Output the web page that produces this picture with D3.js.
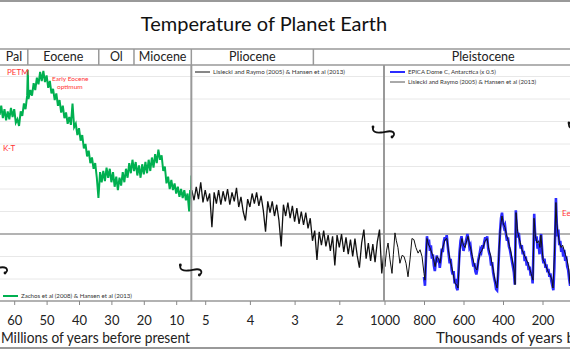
<!DOCTYPE html>
<html lang="en">
<head>
<meta charset="UTF-8">
<title>Temperature of Planet Earth</title>
<style>
    body { margin: 0; background: #fff; }
    svg { display: block; font-family: Lato, "Open Sans", sans-serif; }
</style>
</head>
<body>
<script src="https://cdnjs.cloudflare.com/ajax/libs/d3/7.8.5/d3.min.js"></script>
<script>

// Zachos et al (2008) & Hansen et al (2013): [Myr before present, temperature °C]
const zachos = [
    [65.0,11.3],[64.5,10.6],[64.0,11.4],[63.5,10.3],[63.0,11.1],[62.5,10.1],[62.0,10.9],[61.5,10.2],
    [61.0,11.2],[60.5,10.4],[60.0,11.1],[59.5,9.9],[59.0,10.2],[58.5,9.6],[58.0,10.9],[57.5,10.5],
    [57.0,11.6],[56.5,11.1],[56.0,12.3],[55.8,14.6],[55.6,12.0],[55.0,12.8],[54.5,12.3],[54.0,13.4],
    [53.5,12.8],[53.0,13.9],[52.5,13.3],[52.0,14.4],[51.5,13.6],[51.0,14.5],[50.5,13.5],[50.0,14.1],
    [49.5,13.0],[49.0,13.6],[48.5,12.5],[48.0,12.9],[47.5,11.9],[47.0,12.5],[46.5,11.4],[46.0,11.9],
    [45.5,10.8],[45.0,11.4],[44.5,10.3],[44.0,10.8],[43.5,9.8],[43.0,10.4],[42.5,9.7],[42.0,11.6],
    [41.5,9.5],[41.0,9.8],[40.5,8.8],[40.0,9.4],[39.5,8.3],[39.0,8.8],[38.5,7.6],[38.0,8.0],
    [37.5,6.9],[37.0,7.4],[36.5,6.3],[36.0,6.8],[35.5,5.8],[35.0,6.3],[34.5,5.0],[34.0,3.2],
    [33.5,5.5],[33.0,4.6],[32.5,5.6],[32.0,4.7],[31.5,5.9],[31.0,5.0],[30.5,5.8],[30.0,4.6],
    [29.5,5.5],[29.0,4.2],[28.5,5.1],[28.0,3.9],[27.5,5.0],[27.0,4.3],[26.5,5.5],[26.0,4.6],
    [25.5,5.8],[25.0,5.0],[24.5,6.3],[24.0,5.4],[23.5,6.6],[23.0,5.6],[22.5,6.4],[22.0,5.2],
    [21.5,6.1],[21.0,5.0],[20.5,6.2],[20.0,5.3],[19.5,6.4],[19.0,5.4],[18.5,6.6],[18.0,5.6],
    [17.5,6.8],[17.0,5.9],[16.5,7.1],[16.0,6.3],[15.5,7.5],[15.0,6.6],[14.5,7.0],[14.0,5.6],
    [13.5,6.0],[13.0,4.5],[12.5,5.1],[12.0,4.0],[11.5,4.8],[11.0,3.9],[10.5,4.5],[10.0,3.6],
    [9.5,4.2],[9.0,3.3],[8.5,4.0],[8.0,3.2],[7.5,3.9],[7.0,3.0],[6.5,3.6],[6.0,2.0],
    [5.7,3.9],[5.5,3.1],[5.33,5.2]
];

// Lisiecki and Raymo (2005) & Hansen et al (2013), Pliocene panel: [Myr, °C]
const lr04Myr = [
    [5.30,3.9],[5.25,3.0],[5.20,4.2],[5.15,3.1],[5.10,4.6],[5.05,2.8],[5.00,3.9],[4.95,2.9],
    [4.90,3.6],[4.85,0.6],[4.80,3.7],[4.75,2.7],[4.70,3.9],[4.65,2.6],[4.60,3.8],[4.55,2.9],
    [4.50,4.0],[4.45,2.6],[4.40,3.7],[4.35,2.9],[4.30,4.1],[4.25,2.4],[4.20,3.3],[4.15,2.0],
    [4.10,1.2],[4.05,3.1],[4.00,2.4],[3.95,3.6],[3.90,2.7],[3.85,3.7],[3.80,2.5],[3.75,3.4],
    [3.70,2.1],[3.65,0.2],[3.60,2.9],[3.55,1.9],[3.50,2.9],[3.45,1.6],[3.40,2.6],[3.35,1.2],
    [3.30,-1.1],[3.25,2.6],[3.20,1.6],[3.15,2.8],[3.10,1.4],[3.05,2.5],[3.00,1.1],[2.95,2.3],
    [2.90,0.9],[2.85,2.0],[2.80,0.8],[2.75,1.9],[2.70,0.5],[2.65,1.4],[2.60,-0.6],[2.55,0.3],
    [2.50,-2.3],[2.45,0.2],[2.40,-1.0],[2.35,0.3],[2.30,-1.1],[2.25,-0.1],[2.20,-1.5],[2.15,-0.2],
    [2.10,-2.8],[2.05,-0.1],[2.00,-1.2],[1.95,0.0],[1.90,-1.6],[1.85,-0.3],[1.80,-1.8],[1.75,-0.5],
    [1.70,-2.0],[1.65,-0.4],[1.60,-1.9],[1.55,-3.0],[1.50,-0.8],[1.45,0.4],[1.40,-2.2],[1.35,-0.8],
    [1.30,-2.4],[1.25,-0.9],[1.20,-2.5],[1.15,-0.7],[1.10,0.4],[1.05,-3.5],[1.00,-1.5]
];

// Lisiecki and Raymo (2005) & Hansen et al (2013), Pleistocene panel: [kyr, °C]
const lr04Kyr = [
    [1003,-1.2],[998,-2.9],[990,-1.5],[982,-0.8],[972,-2.3],[962,-3.5],[955,-1.8],[947,0.1],
    [940,-0.6],[932,-1.2],[922,-2.6],[911,-1.9],[901,-2.0],[891,-2.6],[881,-3.8],[871,-2.3],
    [861,-0.4],[851,-0.5],[841,-1.2],[830,-1.7],[820,-1.4],[810,-2.0],[800,-3.5],[795,-4.1],
    [785,-0.4],[778,-0.9],[770,-1.2],[762,-1.6],[754,-2.0],[744,-2.9],[734,-2.0],[726,-2.2],
    [719,-2.6],[709,-1.4],[700,-0.9],[694,-0.5],[684,-0.4],[676,-1.5],[668,-2.3],[660,-2.9],
    [653,-3.5],[643,-4.4],[635,-4.5],[628,-4.8],[618,-1.4],[608,-0.4],[600,-1.0],[592,-1.2],
    [584,-0.6],[577,-0.2],[570,-0.9],[562,-1.4],[555,-2.0],[547,-2.6],[540,-3.0],[532,-3.2],
    [524,-2.4],[516,-1.7],[508,-1.5],[501,-1.2],[490,-0.6],[481,-0.4],[471,-1.4],[463,-1.9],
    [456,-2.6],[448,-3.3],[441,-4.1],[435,-4.5],[430,-4.8],[425,-3.3],[420,-1.4],[415,0.2],
    [410,1.0],[405,1.6],[398,0.9],[390,0.6],[382,-0.1],[375,-0.5],[367,-1.1],[359,-1.7],
    [352,-2.4],[344,-3.2],[339,-4.5],[334,1.9],[326,0.2],[319,-0.3],[311,-0.9],[304,-1.4],
    [296,-1.7],[289,-2.0],[281,-2.3],[273,-2.6],[266,-3.0],[258,-3.5],[248,-4.1],[243,1.4],
    [236,-0.2],[228,-0.8],[220,-0.6],[213,-1.2],[208,-0.1],[203,-1.2],[197,-2.3],[190,-2.5],
    [182,-2.9],[175,-3.2],[167,-3.5],[160,-3.7],[152,-4.1],[147,-4.8],[140,-2.0],[132,2.8],
    [127,0.9],[122,0.1],[114,-0.8],[106,-1.2],[98,-1.0],[91,-1.4],[84,-1.8],[76,-2.3],
    [68,-3.0],[61,-4.4],[55,-4.0]
];

// EPICA Dome C, Antarctica (x 0.5): [kyr, °C]
const epica = [
    [800,-3.8],[795,-4.6],[790,-2.0],[785,-0.2],[780,-0.9],[775,-0.5],[770,-1.5],[765,-1.0],
    [760,-2.2],[755,-1.8],[750,-2.8],[745,-3.3],[740,-2.4],[735,-1.9],[730,-2.5],[725,-2.2],
    [720,-3.0],[715,-2.3],[710,-1.3],[705,-1.6],[700,-0.7],[695,-0.3],[690,-0.6],[685,-0.1],
    [680,-1.0],[675,-1.8],[670,-2.6],[665,-2.2],[660,-3.2],[655,-3.6],[650,-3.3],[645,-4.4],
    [640,-4.0],[635,-4.8],[630,-5.0],[625,-3.2],[620,-1.6],[615,-0.6],[610,-0.2],[605,-0.9],
    [600,-1.5],[595,-1.1],[590,-0.8],[585,-0.4],[580,0.0],[575,-0.5],[570,-1.2],[565,-1.0],
    [560,-1.8],[555,-2.3],[550,-2.9],[545,-2.6],[540,-3.3],[535,-3.6],[530,-3.1],[525,-2.3],
    [520,-1.9],[515,-1.4],[510,-1.6],[505,-1.0],[500,-1.3],[495,-0.7],[490,-0.3],[485,-0.6],
    [480,-0.2],[475,-1.3],[470,-1.7],[465,-2.0],[460,-2.8],[455,-2.5],[450,-3.4],[445,-3.9],
    [440,-4.3],[435,-4.9],[430,-5.0],[425,-3.6],[420,-1.6],[415,0.2],[410,1.4],[405,1.9],
    [400,1.0],[395,0.6],[390,0.8],[385,0.0],[380,-0.6],[375,-0.3],[370,-1.1],[365,-1.4],
    [360,-1.9],[355,-2.4],[350,-2.9],[345,-3.4],[340,-4.5],[338,-2.0],[335,2.1],[330,0.5],
    [325,-0.3],[320,0.1],[315,-0.8],[310,-1.3],[305,-1.0],[300,-1.8],[295,-1.5],[290,-2.4],
    [285,-2.0],[280,-2.8],[275,-2.5],[270,-3.2],[265,-2.9],[260,-3.7],[255,-3.4],[250,-4.4],
    [245,-1.0],[242,1.8],[238,0.2],[235,-0.6],[230,-0.2],[225,-1.3],[220,-0.9],[215,-1.8],
    [210,-0.3],[207,0.0],[203,-1.1],[200,-2.0],[195,-2.6],[190,-2.2],[185,-3.0],[180,-2.7],
    [175,-3.4],[170,-3.1],[165,-3.8],[160,-3.5],[155,-4.2],[150,-4.6],[145,-5.0],[140,-3.0],
    [135,0.6],[132,3.2],[128,1.0],[124,-0.2],[120,0.4],[115,-1.0],[110,-0.6],[105,-1.6],
    [100,-1.2],[95,-2.0],[90,-1.4],[85,-2.4],[80,-2.0],[75,-2.9],[70,-3.2],[65,-4.0],
    [60,-4.6],[55,-4.2]
];

// geological epochs (start, end in Myr)
const epochNames = ["Pal", "Eocene", "Ol", "Miocene", "Pliocene", "Pleistocene"];
const epochStart = [65.5, 55.8, 33.9, 23.03, 5.33, 2.58];
const epochEnd   = [55.8, 33.9, 23.03, 5.33, 2.58, 0.0117];

const ticksMyr   = [60, 50, 40, 30, 20, 10];
const ticksPlio  = [5, 4, 3, 2];
const ticksKyr   = [1000, 800, 600, 400, 200];
const gridTemps  = [-4, -2, 2, 4, 6, 8, 10, 12, 14];

const w = 570;
const h = 350;
const plotTop = 65;
const plotBottom = 301;
const bandTop = 49;

const svg = d3.select("body").append("svg")
    .attr("width", w)
    .attr("height", h);

const y = d3.scaleLinear().domain([-6, 15]).range([301.5, 65.25]);
const x1 = d3.scaleLinear().domain([0, 60]).range([208.6, 14.2]);
const x2 = d3.scaleLinear().domain([1, 5]).range([384, 205.2]);
const x3 = d3.scaleLinear().domain([0, 1000]).range([582, 384.5]);

// panel edges
const p1 = [0, x1(5.33)];
const p2 = [x1(5.33), x2(1)];
const p3 = [x2(1), 640];

// outer frame
svg.append("line").attr("x1", 0).attr("x2", w).attr("y1", 1).attr("y2", 1)
    .attr("stroke", "#999").attr("stroke-width", 2);
svg.append("line").attr("x1", 0).attr("x2", w).attr("y1", 348).attr("y2", 348)
    .attr("stroke", "#999").attr("stroke-width", 2);

svg.append("text")
    .attr("x", 264).attr("y", 31)
    .attr("text-anchor", "middle")
    .attr("font-size", 20)
    .attr("fill", "#111")
    .text("Temperature of Planet Earth");

// grid
svg.selectAll(".grid").data(gridTemps).enter().append("line")
    .attr("x1", 0).attr("x2", w)
    .attr("y1", d => y(d)).attr("y2", d => y(d))
    .attr("stroke", "#e8e8e8").attr("stroke-width", 1);

svg.append("line")
    .attr("x1", 0).attr("x2", w).attr("y1", y(0)).attr("y2", y(0))
    .attr("stroke", "#9a9a9a").attr("stroke-width", 1.5);

// clip paths for panels
const defs = svg.append("defs");
[p1, p2, p3].forEach((p, i) => {
    defs.append("clipPath").attr("id", "clip" + i)
        .append("rect")
        .attr("x", p[0]).attr("y", plotTop)
        .attr("width", p[1] - p[0]).attr("height", plotBottom - plotTop);
});

const lineMyr = d3.line().x(d => x1(d[0])).y(d => y(d[1]));
const linePlio = d3.line().x(d => x2(d[0])).y(d => y(d[1]));
const lineKyr = d3.line().x(d => x3(d[0])).y(d => y(d[1]));

svg.append("path").datum(zachos)
    .attr("clip-path", "url(#clip0)")
    .attr("d", lineMyr)
    .attr("fill", "none").attr("stroke", "#00b050").attr("stroke-width", 2);

svg.append("path").datum(lr04Myr)
    .attr("clip-path", "url(#clip1)")
    .attr("d", linePlio)
    .attr("fill", "none").attr("stroke", "#111").attr("stroke-width", 1.3);

svg.append("path").datum(epica)
    .attr("clip-path", "url(#clip2)")
    .attr("d", lineKyr)
    .attr("fill", "none").attr("stroke", "#2b2bff").attr("stroke-width", 2.6);

svg.append("path").datum(lr04Kyr)
    .attr("clip-path", "url(#clip2)")
    .attr("d", lineKyr)
    .attr("fill", "none").attr("stroke", "#111").attr("stroke-width", 1);

// epoch band
svg.append("line").attr("x1", 0).attr("x2", w).attr("y1", bandTop).attr("y2", bandTop)
    .attr("stroke", "#999").attr("stroke-width", 1.5);
svg.append("line").attr("x1", 0).attr("x2", w).attr("y1", plotTop).attr("y2", plotTop)
    .attr("stroke", "#999").attr("stroke-width", 1.5);

// epoch edges on the header: Myr scale up to 5.33, Pliocene scale below
function epochX(m) {
    return m >= 5.33 ? x1(m) : x2(m);
}
const pleistoceneRight = 653;
epochNames.forEach((name, i) => {
    const a = Math.max(0, epochX(epochStart[i]));
    const b = i === epochNames.length - 1 ? pleistoceneRight : epochX(epochEnd[i]);
    if (i < epochNames.length - 1) {
        svg.append("line")
            .attr("x1", b).attr("x2", b).attr("y1", bandTop).attr("y2", plotTop)
            .attr("stroke", "#999").attr("stroke-width", 1.5);
    }
    svg.append("text")
        .attr("x", (a + b) / 2).attr("y", 61)
        .attr("text-anchor", "middle")
        .attr("font-size", 12.5)
        .attr("fill", "#222")
        .text(name);
});

// panel dividers
[p2[0], p3[0]].forEach(px => {
    svg.append("line")
        .attr("x1", px).attr("x2", px).attr("y1", plotTop).attr("y2", plotBottom)
        .attr("stroke", "#999").attr("stroke-width", 2);
});

// axes
svg.append("line").attr("x1", 0).attr("x2", w).attr("y1", plotBottom).attr("y2", plotBottom)
    .attr("stroke", "#999").attr("stroke-width", 1.5);

function drawAxis(scale, ticks, fmt) {
    const g = svg.append("g")
        .attr("transform", `translate(0,${plotBottom})`)
        .call(d3.axisBottom(scale).tickValues(ticks).tickSize(4).tickPadding(11).tickFormat(fmt));
    g.select(".domain").remove();
    g.selectAll(".tick line").attr("stroke", "#888");
    g.selectAll("text").attr("font-size", 13).attr("fill", "#222")
        .attr("font-family", "Lato, 'Open Sans', sans-serif");
}
drawAxis(x1, ticksMyr, d3.format("d"));
drawAxis(x2, ticksPlio, d3.format("d"));
drawAxis(x3, ticksKyr, d3.format("d"));

svg.append("text")
    .attr("x", 1).attr("y", 343)
    .attr("font-size", 15)
    .attr("fill", "#222")
    .attr("textLength", 189).attr("lengthAdjust", "spacingAndGlyphs")
    .text("Millions of years before present");

svg.append("text")
    .attr("x", 436).attr("y", 343)
    .attr("font-size", 15)
    .attr("fill", "#222")
    .text("Thousands of years before present");

// axis break marks
function squiggle(cx, cy) {
    const g = svg.append("g").attr("transform", `translate(${cx},${cy})`);
    g.append("path")
        .attr("d", "M-11,-5 C-12,0 -8,1 -3,0.5 C2,0 6,-2 9,0 C11,2 10,4 8,5")
        .attr("fill", "none").attr("stroke", "#111").attr("stroke-width", 1.8);
    g.append("circle").attr("cx", -11).attr("cy", -5).attr("r", 1.4).attr("fill", "#111");
    g.append("circle").attr("cx", 8).attr("cy", 5).attr("r", 1.4).attr("fill", "#111");
}
squiggle(-3, 268);
squiggle(p2[0], 270);
squiggle(p3[0], 132);
squiggle(580, 128);

// legends
function legend(x, yy, color, sw, label, len) {
    svg.append("line").attr("x1", x).attr("x2", x + 15).attr("y1", yy).attr("y2", yy)
        .attr("stroke", color).attr("stroke-width", sw);
    svg.append("text").attr("x", x + 18).attr("y", yy + 2)
        .attr("font-size", 6.5).attr("fill", "#333")
        .attr("textLength", len).attr("lengthAdjust", "spacingAndGlyphs")
        .text(label);
}
legend(3, 296, "#00b050", 2, "Zachos et al (2008) & Hansen et al (2013)", 111);
legend(195, 72, "#111", 1, "Lisiecki and Raymo (2005) & Hansen et al (2013)", 132);
legend(390, 72, "#2b2bff", 2, "EPICA Dome C, Antarctica (x 0.5)", 88);
legend(390, 82, "#555", 1, "Lisiecki and Raymo (2005) & Hansen et al (2013)", 128);

// annotations
const red = "#ff3333";
function note(x, yy, size, label) {
    svg.append("text").attr("x", x).attr("y", yy)
        .attr("font-size", size).attr("fill", red).text(label);
}
note(7, 75, 8, "PETM");
note(52, 81, 6.5, "Early Eocene");
note(57, 89, 6.5, "optimum");
note(3, 151, 8, "K-T");
note(562, 216, 8, "Eemian");

</script>
</body>
</html>
